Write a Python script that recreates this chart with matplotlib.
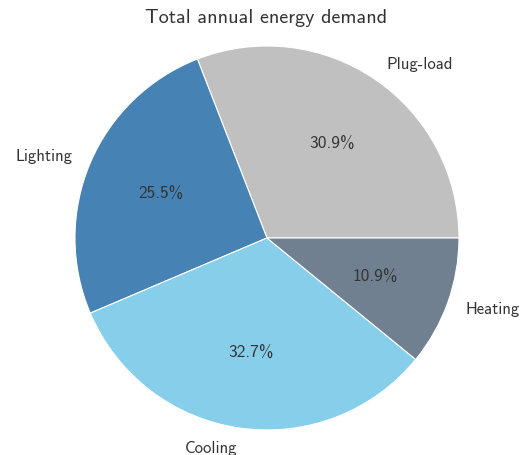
import matplotlib
matplotlib.use("Agg")
import matplotlib.pyplot as plt

# data
categories = ["Plug-load", "Lighting", "Cooling", "Heating"]
shares = [30.9, 25.5, 32.7, 10.9]
colors = ["#c0c0c0", "#4682b4", "#87ceeb", "#708090"]

plt.rcParams["font.family"] = ["cmss10", "DejaVu Sans"]
plt.rcParams["axes.unicode_minus"] = False

fig = plt.figure(figsize=(5.26, 4.56), dpi=100)
ax = fig.add_axes([0.0513, -0.0504, 0.9125, 1.0526])

wedges, texts, autotexts = ax.pie(
    shares, labels=categories, colors=colors, autopct="%1.1f%%",
    startangle=0, counterclock=True,
    wedgeprops=dict(edgecolor="white", linewidth=0.8),
    textprops=dict(color="#333333", fontsize=12),
)
for t in autotexts:
    t.set_fontsize(12.5)
ax.set_xlim(-1.25, 1.25)
ax.set_ylim(-1.25, 1.25)
ax.set_aspect("equal")

fig.text(0.506, 1 - 18 / 456, "Total annual energy demand", ha="center",
         va="center", fontsize=14.5, color="#333333")

fig.savefig("out.png", dpi=100)
